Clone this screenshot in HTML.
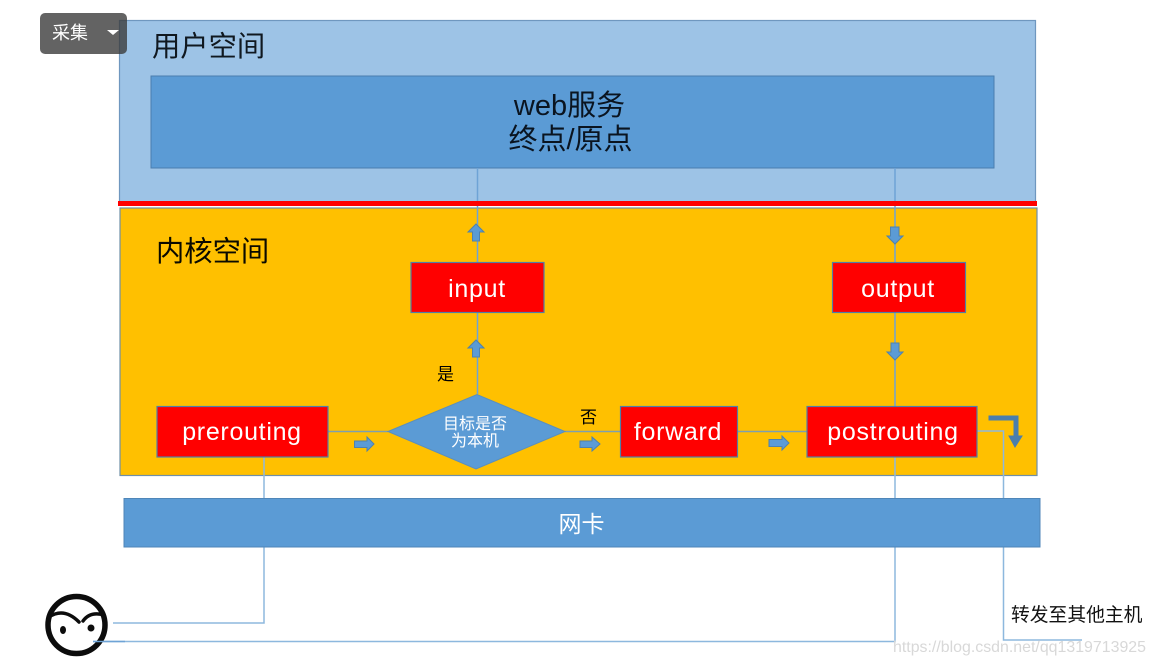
<!DOCTYPE html>
<html><head><meta charset="utf-8"><style>
html,body{margin:0;padding:0;background:#fff}
svg{display:block}
text{font-family:"Liberation Sans","Noto Sans CJK SC",sans-serif}
</style></head><body>
<svg width="1155" height="665" viewBox="0 0 1155 665" xmlns="http://www.w3.org/2000/svg">
<rect x="119.500" y="20.500" width="916" height="182" fill="#9dc3e6" stroke="#6f97bf" stroke-width="1.200"/>
<rect x="120" y="208" width="917" height="267.500" fill="#ffc000" stroke="#6f8fa8" stroke-width="1.200"/>
<rect x="151" y="76" width="843" height="92" fill="#5b9bd5" stroke="#4a7eae" stroke-width="1"/>
<g fill="none" stroke="#6ea3d6" stroke-width="1.500">
<path d="M477.500 168V262M477.500 312V394"/>
<path d="M895 168V262M895 312V406"/>
</g>
<g fill="none" stroke="#7d9fb0" stroke-width="1.500">
<path d="M328 431.500H388M565 431.500H620M737 431.500H807"/>
</g>
<g fill="none" stroke="#8db8de" stroke-width="1.500">
<path d="M264 457V498M264 547V623H113"/>
<path d="M895 457V498M895 547V641.500H93"/>
<path d="M977 431H1003.500V498M1003.500 547V640H1082"/>
</g>
<rect x="118" y="201" width="919" height="5" fill="#ff0000"/>
<g fill="#ff0000" stroke="#4f7fa8" stroke-width="1.200">
<rect x="411" y="262.500" width="133" height="50"/>
<rect x="832.500" y="262.500" width="133" height="50"/>
<rect x="157" y="406.500" width="171" height="50.500"/>
<rect x="620.500" y="406.500" width="117" height="50.500"/>
<rect x="807" y="406.500" width="170" height="50.500"/>
</g>
<polygon points="388,431.500 477,394.500 565,431.500 476,469" fill="#5b9bd5" stroke="#5a8fbd" stroke-width="1"/>
<rect x="124" y="498.500" width="916" height="48.500" fill="#5b9bd5" stroke="#4f86b8" stroke-width="1"/>
<g fill="#5b9bd5" stroke="#4f82ad" stroke-width="1">
<polygon points="472.500,241 472.500,232 468,232 476,224 484,232 479.500,232 479.500,241"/>
<polygon points="472.500,357 472.500,348 468,348 476,340 484,348 479.500,348 479.500,357"/>
<polygon points="890.500,227 899,227 899,236 903,236 895,244 887,236 890.500,236"/>
<polygon points="891,343 899,343 899,352 903,352 895,360 887,352 891,352"/>
<polygon points="354.500,441 367,441 367,437 374,444 367,451 367,447.500 354.500,447.500"/>
<polygon points="580,441 592,441 592,437 600,444 592,451 592,447.500 580,447.500"/>
<polygon points="769,439.500 782,439.500 782,436 789,443 782,450 782,446.500 769,446.500"/>
</g>
<polygon points="989,416 1018,416 1018,436 1022,436 1015,447 1009,436 1014,436 1014,420 989,420" fill="#4a7ead" stroke="#4a7ead" stroke-width="1"/>
<text x="569.500" y="115" font-size="29" fill="#0a1420" text-anchor="middle">web服务</text>
<text x="570.500" y="149" font-size="29" fill="#0a1420" text-anchor="middle">终点/原点</text>
<text x="152" y="56" font-size="28.300" fill="#101820">用户空间</text>
<text x="156" y="261" font-size="28.300" fill="#0a0a00">内核空间</text>
<g fill="#fff" font-size="25" text-anchor="middle" letter-spacing=".7">
<text x="477" y="297">input</text>
<text x="898" y="297">output</text>
<text x="242" y="440">prerouting</text>
<text x="678" y="440">forward</text>
<text x="893" y="440">postrouting</text>
</g>
<text x="475" y="429" font-size="16" fill="#fff" text-anchor="middle">目标是否</text>
<text x="475" y="446" font-size="16" fill="#fff" text-anchor="middle">为本机</text>
<text x="437" y="380" font-size="17" fill="#000">是</text>
<text x="580" y="423" font-size="17" fill="#000">否</text>
<text x="581.500" y="532" font-size="23" fill="#fff" text-anchor="middle">网卡</text>
<text x="1011" y="621" font-size="18.800" fill="#111">转发至其他主机</text>
<text x="893" y="652" font-size="16" fill="#d8d8d8" textLength="253" lengthAdjust="spacingAndGlyphs">https://blog.csdn.net/qq1319713925</text>
<g fill="none" stroke="#0c0c0c" stroke-linecap="round">
<circle cx="76.500" cy="625" r="28.500" stroke-width="5.500"/>
<path d="M49 617Q64 607 79 622" stroke-width="3.500"/>
<path d="M83 621Q90 611 104 615" stroke-width="3.500"/>
</g>
<ellipse cx="63" cy="630" rx="3" ry="4" fill="#0c0c0c"/>
<ellipse cx="91" cy="628" rx="3.500" ry="3.500" fill="#0c0c0c"/>
<path d="M93 641.500H125" stroke="#6ea3d6" stroke-width="1.500"/>
<rect x="40" y="13" width="87" height="41" rx="5" fill="#3c3c3c" fill-opacity=".8"/>
<text x="52" y="39" font-size="18" fill="#fff">采集</text>
<polygon points="107,30 119,30 113,35" fill="#fff"/>
</svg>
</body></html>
